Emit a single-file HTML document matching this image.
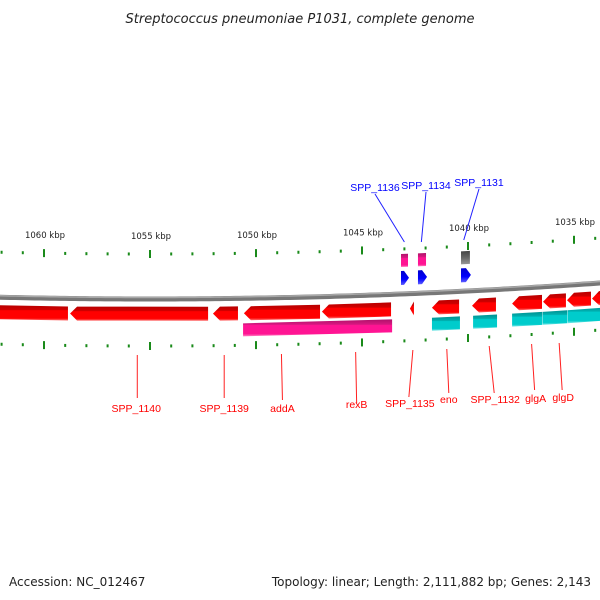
<!DOCTYPE html>
<html><head><meta charset="utf-8"><style>
body{margin:0;background:#fff}
svg{display:block;font-family:"DejaVu Sans","Liberation Sans",sans-serif}
.lab{font-family:"Liberation Sans",sans-serif}
</style></head><body>
<svg id="c" width="600" height="600" viewBox="0 0 600 600">
<defs>
<linearGradient id="gRed" x1="0" y1="0" x2="0" y2="1"><stop offset="0" stop-color="#b80000"/><stop offset="0.3" stop-color="#d00000"/><stop offset="0.35" stop-color="#ff0000"/><stop offset="0.85" stop-color="#ff0000"/><stop offset="1" stop-color="#ff7070"/></linearGradient>
<linearGradient id="gPink" x1="0" y1="0" x2="0" y2="1"><stop offset="0" stop-color="#b0106a"/><stop offset="0.3" stop-color="#d81880"/><stop offset="0.35" stop-color="#ff1493"/><stop offset="0.85" stop-color="#ff1493"/><stop offset="1" stop-color="#ff80c0"/></linearGradient>
<linearGradient id="gCyan" x1="0" y1="0" x2="0" y2="1"><stop offset="0" stop-color="#009090"/><stop offset="0.3" stop-color="#00b0b0"/><stop offset="0.35" stop-color="#00cccc"/><stop offset="0.85" stop-color="#00cccc"/><stop offset="1" stop-color="#80e8e8"/></linearGradient>
<linearGradient id="gGray" x1="0" y1="0" x2="0" y2="1"><stop offset="0" stop-color="#444"/><stop offset="0.5" stop-color="#666"/><stop offset="1" stop-color="#999"/></linearGradient>
<linearGradient id="gBlue" x1="0" y1="0" x2="0" y2="1"><stop offset="0" stop-color="#0000cc"/><stop offset="0.6" stop-color="#0000ff"/><stop offset="1" stop-color="#6060ff"/></linearGradient>
</defs>
<text x="300" y="23" text-anchor="middle" font-size="13" font-style="italic" fill="#222">Streptococcus pneumoniae P1031, complete genome</text>
<text x="9" y="586" font-size="12" fill="#222">Accession: NC_012467</text>
<text x="591" y="586" font-size="12" text-anchor="end" fill="#222">Topology: linear; Length: 2,111,882 bp; Genes: 2,143</text>
<g id="layer"></g>
</svg>
<script>
// data (kbp)
const majorTicks=[1065,1060,1055,1050,1045,1040,1035,1030];
const tickLabels=["1065 kbp","1060 kbp","1055 kbp","1050 kbp","1045 kbp","1040 kbp","1035 kbp","1030 kbp"];
const revStart=[1062.5,1058.77,1052.03,1050.57,1046.89,1042.74,1041.70,1039.81,1037.92,1036.46,1035.33,1034.15];
const revEnd=[1058.87,1052.26,1050.85,1046.98,1043.63,1042.55,1040.42,1038.68,1036.51,1035.38,1034.20,1032.5];
const row2Start=[1050.61,1041.70,1039.76,1037.92,1036.48,1035.30];
const row2End=[1043.58,1040.38,1038.63,1036.50,1035.32,1032.5];
const row2Kind=["pink","cyan","cyan","cyan","cyan","cyan"];
const fwdStart=[1043.16,1042.36,1040.33];
const fwdEnd=[1042.83,1041.98,1039.91];
const fwdKind=["pink","pink","gray"];
const bottomNames=["SPP_1140","SPP_1139","addA","rexB","SPP_1135","eno","SPP_1132","glgA","glgD"];
const bottomPos=[1055.6,1051.5,1048.8,1045.3,1042.6,1041.0,1039.0,1037.0,1035.7];
const topNames=["SPP_1136","SPP_1134","SPP_1131"];
const topPos=[1043.0,1042.2,1040.2];

const X=k=>44+(1060-k)*21.2;
const arc=x=>299-7.9e-5*(x-150)*(x-150);
const NS="http://www.w3.org/2000/svg";
const L=document.getElementById('layer');
function mk(t,a,p){const e=document.createElementNS(NS,t);for(const k in a)e.setAttribute(k,a[k]);(p||L).appendChild(e);return e;}

// backbone
const bb=[];for(let x=-5;x<=605;x+=5)bb.push(x+','+arc(x));
const bbl=mk('polyline',{points:bb.join(' '),fill:'none',stroke:'#777','stroke-width':5});


const bbh=mk('polyline',{points:bb.join(' '),fill:'none',stroke:'#a8a8a8','stroke-width':1.5,transform:'translate(0,-1.5)'});



// ticks
for(let k=1066;k>=1030;k--){
  const x=X(k);if(x<-2||x>602)continue;
  const maj=k%5===0;const h=maj?8:3;
  const yt=arc(x)-45, yb=arc(x)+47;
  const t1=mk('rect',{x:x-1,y:yt-h/2,width:2,height:h,fill:'#1a8a1a'});
  
  
  const t2=mk('rect',{x:x-1,y:yb-h/2,width:2,height:h,fill:'#1a8a1a'});
  
  
}
majorTicks.forEach((k,i)=>{
  const x=X(k);if(x<10||x>590)return;
  const t=mk('text',{x:x+1,y:arc(x)-60,'font-size':8.5,'text-anchor':'middle',fill:'#222'});
  t.textContent=tickLabels[i];
  
  
});

function gene(x1,x2,o1,o2,fill,dir,head){
  const a1=arc(x1),a2=arc(x2),m=(o1+o2)/2;
  let pts;
  if(dir<0){const h=Math.min(head,x2-x1);const xb=x1+h,ab=arc(xb);
    pts=[[x1,a1+m],[xb,ab+o1],[x2,a2+o1],[x2,a2+o2],[xb,ab+o2]];}
  else if(dir>0){const h=Math.min(head,x2-x1);const xb=x2-h,ab=arc(xb);
    pts=[[x1,a1+o1],[xb,ab+o1],[x2,a2+m],[xb,ab+o2],[x1,a1+o2]];}
  else pts=[[x1,a1+o1],[x2,a2+o1],[x2,a2+o2],[x1,a1+o2]];
  return mk('polygon',{points:pts.map(p=>p.join(',')).join(' '),fill:fill});
}
revStart.forEach((s,i)=>{
  const g=gene(X(s),X(revEnd[i]),8,22,'url(#gRed)',-1,7);
  
  
});
row2Start.forEach((s,i)=>{
  const g=gene(X(s),X(row2End[i]),25,38,row2Kind[i]==='pink'?'url(#gPink)':'url(#gCyan)',0,0);
  
  
});
fwdStart.forEach((s,i)=>{
  const x1=X(s),x2=X(fwdEnd[i]);
  const g=gene(x1,x2,-40,-27,fwdKind[i]==='pink'?'url(#gPink)':'url(#gGray)',0,0);
  
  
  const b=gene(x1,x2+1,-23,-9,'url(#gBlue)',1,5);
  
  
});

// bottom labels
const bl=[[139,355,139,398,138,412],[226,355,226,398,226,412],[283,354,284,400,284,412],[358,352,359,403,359,408],[414,350,410,397,411,407],[447,349,449,393,449,403],[486,346,491,393,492,403],[529,344,532,390,533,402],[557,343,560,390,561,401]];
bottomNames.forEach((n,i)=>{
  const x=X(bottomPos[i]);const d=bl[i];const dx=x-d[0];
  const ln=mk('line',{x1:d[0]+dx,y1:d[1],x2:d[2]+dx,y2:d[3],stroke:'#ff2020','stroke-width':1});
  
  
  const t=mk('text',{x:d[4]+dx,y:d[5],'font-size':10.5,'text-anchor':'middle',fill:'#ff0000','class':'lab'});
  t.textContent=n;
  
  
});
const tl=[[375,191,404,242],[426,189,422,242],[479,186,464,240]];
topNames.forEach((n,i)=>{
  const x=X(topPos[i]);const d=tl[i];const dx=x-d[2];
  const ln=mk('line',{x1:d[0],y1:d[1]+3,x2:d[2]+dx,y2:d[3],stroke:'#2020ff','stroke-width':1});
  
  
  const t=mk('text',{x:d[0],y:d[1],'font-size':10.5,'text-anchor':'middle',fill:'#0000ff','class':'lab'});
  t.textContent=n;
  
  
});
</script>
</body></html>
